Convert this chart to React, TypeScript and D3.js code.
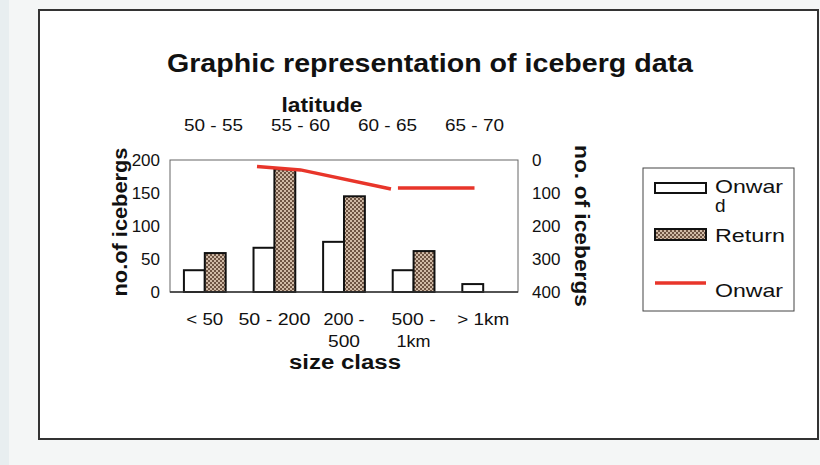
import React from "react";
import * as d3 from "d3";

const sizeClasses = ["< 50", "50 - 200", "200 -\n500", "500 -\n1km", "> 1km"];
const sizeLabelWidths = [[37], [72], [41, 32], [44, 34], [52]];
const onward = [33, 67, 76, 33, 12];
const returnVals = [59, 186, 145, 62, 0];
const latBands = ["50 - 55", "55 - 60", "60 - 65", "65 - 70"];
const latCenters = [52.5, 57.5, 62.5, 67.5];
const lineLat = [55, 57.5, 62.7, 62.9, 63.1, 67.5];
const lineVals: (number | null)[] = [20, 30, 88, null, 85, 85];
const leftTicks = [0, 50, 100, 150, 200];
const rightTicks = [0, 100, 200, 300, 400];

const W = 820, H = 465;
const PL = 170, PR = 518, PT = 160, PB = 292;
const FONT = "'Liberation Sans', Arial, Helvetica, sans-serif";

export default function App() {
  const x = d3.scaleBand<string>().domain(sizeClasses).range([PL, PR]).paddingInner(0.4).paddingOuter(0.2);
  const sub = d3.scaleBand<string>().domain(["Onward", "Return"]).range([0, x.bandwidth()]);
  const y = d3.scaleLinear().domain([0, 200]).range([PB, PT]);
  const y2 = d3.scaleLinear().domain([0, 400]).range([PT, PB]);
  const xLat = d3.scaleLinear().domain([50, 70]).range([PL, PR]);
  const pts = lineLat.map((l, i) => ({ l, v: lineVals[i] }));
  const line = d3
    .line<{ l: number; v: number | null }>()
    .defined((d) => d.v != null)
    .x((d) => xLat(d.l))
    .y((d) => y2(d.v as number));

  return (
    <svg width={W} height={H} style={{ position: "absolute", left: 0, top: 0 }} fontFamily={FONT}>
      <defs>
        <pattern id="hatch" width="4" height="4" patternUnits="userSpaceOnUse">
          <rect width="4" height="4" fill="#d0baa6" />
          <rect x="0" y="0" width="2" height="2" fill="#6e5443" />
          <rect x="2" y="2" width="2" height="2" fill="#6e5443" />
        </pattern>
      </defs>
      <rect width={W} height={H} fill="#f4f6f6" />
      <rect width={9} height={H} fill="#e8eef0" />
      <rect x={39} y={10} width={779} height={429} fill="#ffffff" stroke="#333" strokeWidth={2} />

      <text x={430} y={72} textAnchor="middle" fontSize={25} fontWeight="bold" textLength={526} lengthAdjust="spacingAndGlyphs" fill="#111">
        Graphic representation of iceberg data
      </text>
      <text x={322} y={112} textAnchor="middle" fontSize={20} fontWeight="bold" textLength={81} lengthAdjust="spacingAndGlyphs" fill="#111">
        latitude
      </text>
      {latBands.map((b, i) => (
        <text key={b} x={xLat(latCenters[i])} y={131} textAnchor="middle" fontSize={17} textLength={59} lengthAdjust="spacingAndGlyphs" fill="#111">
          {b}
        </text>
      ))}

      <rect x={PL} y={PT} width={PR - PL} height={PB - PT} fill="none" stroke="#666" strokeWidth={1} />

      {leftTicks.map((t) => (
        <text key={t} x={160} y={y(t)} dy="0.35em" textAnchor="end" fontSize={17} fill="#111">
          {t}
        </text>
      ))}
      {rightTicks.map((t) => (
        <text key={t} x={532} y={y2(t)} dy="0.35em" textAnchor="start" fontSize={17} fill="#111">
          {t}
        </text>
      ))}
      <text transform="translate(127,222) rotate(-90)" textAnchor="middle" fontSize={20} fontWeight="bold" textLength={149} lengthAdjust="spacingAndGlyphs" fill="#111">
        no.of icebergs
      </text>
      <text transform="translate(575,226) rotate(90)" textAnchor="middle" fontSize={20} fontWeight="bold" textLength={162} lengthAdjust="spacingAndGlyphs" fill="#111">
        no. of icebergs
      </text>

      {sizeClasses.map((c, i) => (
        <g key={c}>
          <rect x={(x(c) as number) + (sub("Onward") as number)} y={y(onward[i])} width={sub.bandwidth()} height={y(0) - y(onward[i])} fill="#fff" stroke="#111" strokeWidth={2} />
          {returnVals[i] > 0 && (
            <rect x={(x(c) as number) + (sub("Return") as number)} y={y(returnVals[i])} width={sub.bandwidth()} height={y(0) - y(returnVals[i])} fill="url(#hatch)" stroke="#111" strokeWidth={2} />
          )}
          {c.split("\n").map((part, j) => (
            <text key={j} x={(x(c) as number) + x.bandwidth() / 2} y={325 + j * 22} textAnchor="middle" fontSize={17} textLength={sizeLabelWidths[i][j]} lengthAdjust="spacingAndGlyphs" fill="#111">
              {part}
            </text>
          ))}
        </g>
      ))}
      <line x1={PL} x2={PR} y1={y(0)} y2={y(0)} stroke="#333" strokeWidth={1.5} />

      <path d={line(pts) || ""} fill="none" stroke="#e8352a" strokeWidth={3.5} />

      <text x={345} y={369} textAnchor="middle" fontSize={20} fontWeight="bold" textLength={112} lengthAdjust="spacingAndGlyphs" fill="#111">
        size class
      </text>

      <rect x={643} y={168} width={151} height={143} fill="#fff" stroke="#444" strokeWidth={1} />
      <rect x={655} y={183} width={51} height={10} fill="#fff" stroke="#111" strokeWidth={2} />
      <text x={715} y={193} fontSize={19} textLength={68} lengthAdjust="spacingAndGlyphs" fill="#111">Onwar</text>
      <text x={715} y={212} fontSize={19} fill="#111">d</text>
      <rect x={655} y={229} width={51} height={11} fill="url(#hatch)" stroke="#111" strokeWidth={2} />
      <text x={715} y={242} fontSize={19} textLength={70} lengthAdjust="spacingAndGlyphs" fill="#111">Return</text>
      <line x1={655} x2={706} y1={283} y2={283} stroke="#e8352a" strokeWidth={3.5} />
      <text x={715} y={297} fontSize={19} textLength={68} lengthAdjust="spacingAndGlyphs" fill="#111">Onwar</text>
    </svg>
  );
}
